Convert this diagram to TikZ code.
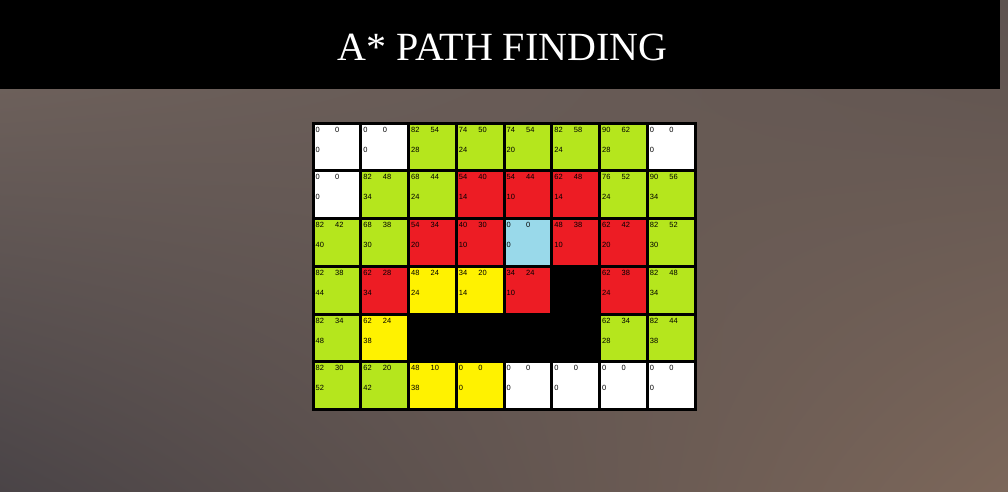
\documentclass[tikz,border=0pt]{standalone}
\usepackage{fontspec}
\setmainfont{Liberation Serif}
\newfontfamily\cellfont{Liberation Sans}
\usetikzlibrary{shadings}
\definecolor{bgtl}{HTML}{74665F}
\definecolor{bgtr}{HTML}{5E5350}
\definecolor{bgbl}{HTML}{4A4447}
\definecolor{bgbr}{HTML}{7C675A}
\definecolor{openc}{HTML}{B5E61D}
\definecolor{closedc}{HTML}{ED1C24}
\definecolor{pathc}{HTML}{FFF200}
\definecolor{startc}{HTML}{99D9EA}
\definecolor{emptyc}{HTML}{FFFFFF}
\tikzset{
  cell/.style={rectangle,draw=black,line width=3pt,minimum size=47.75pt,inner sep=0pt,outer sep=0pt},
  wall/.style={cell,fill=black},
  num/.style={anchor=west,inner sep=0pt,font=\cellfont\fontsize{7.5}{8}\selectfont}
}

\begin{document}
\begin{tikzpicture}[x=1pt,y=-1pt]
\useasboundingbox (0,0) rectangle (1008,491);
\shade[upper left=bgtl,upper right=bgtr,lower left=bgbl,lower right=bgbr] (0,0) rectangle (1008,491);
\fill[black] (0,0) rectangle (1000,89);
\node[text=white,font=\fontsize{40}{40}\selectfont,anchor=base] (title) at (502.5,60) {A* PATH FINDING};

% row/col/colour/f/g/h
\foreach \r/\c/\col/\f/\g/\h in {
0/0/emptyc/0/0/0, 0/1/emptyc/0/0/0, 0/2/openc/82/54/28, 0/3/openc/74/50/24,
0/4/openc/74/54/20, 0/5/openc/82/58/24, 0/6/openc/90/62/28, 0/7/emptyc/0/0/0,
1/0/emptyc/0/0/0, 1/1/openc/82/48/34, 1/2/openc/68/44/24, 1/3/closedc/54/40/14,
1/4/closedc/54/44/10, 1/5/closedc/62/48/14, 1/6/openc/76/52/24, 1/7/openc/90/56/34,
2/0/openc/82/42/40, 2/1/openc/68/38/30, 2/2/closedc/54/34/20, 2/3/closedc/40/30/10,
2/4/startc/0/0/0, 2/5/closedc/48/38/10, 2/6/closedc/62/42/20, 2/7/openc/82/52/30,
3/0/openc/82/38/44, 3/1/closedc/62/28/34, 3/2/pathc/48/24/24, 3/3/pathc/34/20/14,
3/4/closedc/34/24/10, 3/6/closedc/62/38/24, 3/7/openc/82/48/34,
4/0/openc/82/34/48, 4/1/pathc/62/24/38, 4/6/openc/62/34/28, 4/7/openc/82/44/38,
5/0/openc/82/30/52, 5/1/openc/62/20/42, 5/2/pathc/48/10/38, 5/3/pathc/0/0/0,
5/4/emptyc/0/0/0, 5/5/emptyc/0/0/0, 5/6/emptyc/0/0/0, 5/7/emptyc/0/0/0}{
  \node[cell,fill=\col] (c-\r-\c) at ({313+47.75*(\c+0.5)},{123+47.75*(\r+0.5)}) {};
  \node[num] at ([xshift=2.5pt,yshift=-6.5pt]c-\r-\c.north west) {\f};
  \node[num] at ([xshift=22pt,yshift=-6.5pt]c-\r-\c.north west) {\g};
  \node[num] at ([xshift=2.5pt,yshift=-26.5pt]c-\r-\c.north west) {\h};
}

% walls
\foreach \r/\c in {3/5,4/2,4/3,4/4,4/5}
  \node[wall] (c-\r-\c) at ({313+47.75*(\c+0.5)},{123+47.75*(\r+0.5)}) {};
\end{tikzpicture}
\end{document}
